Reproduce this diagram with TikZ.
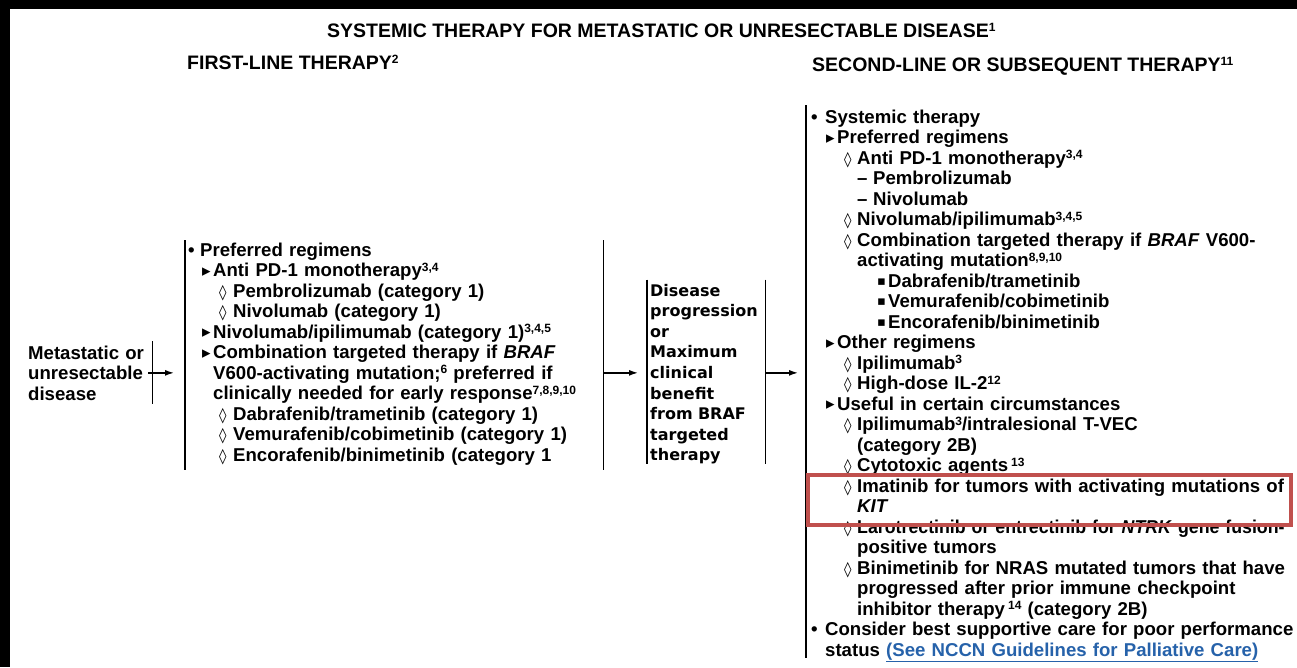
\documentclass[tikz,border=0pt]{standalone}
\usepackage{fontspec}
\usepackage{graphicx}
\setmainfont{Liberation Sans}
\newfontfamily\symf{DejaVu Sans}
\usetikzlibrary{arrows.meta}
\definecolor{linkblue}{RGB}{38,98,170}
\definecolor{markred}{RGB}{192,80,77}

% superscript note numbers and list markers
\newcommand{\sups}[1]{\smash{\raisebox{5.5pt}{\fontsize{12}{12}\selectfont #1}}}
\newcommand{\itm}[3]{\hspace*{#1}\makebox[#2][l]{#3}}
\newcommand{\mktri}{\raisebox{0.5pt}{\symf\fontsize{17}{17}\selectfont ▸}}
\newcommand{\mkdia}{{\symf\fontsize{15}{15}\selectfont ◊}}
\newcommand{\mksq}{\raisebox{2pt}{\symf\fontsize{13}{13}\selectfont ▪}}
% first-line levels
\newcommand{\fA}{\itm{0pt}{12pt}{•}}
\newcommand{\fB}{\itm{14pt}{11pt}{\mktri}}
\newcommand{\fBc}{\hspace*{25pt}}
\newcommand{\fC}{\itm{31pt}{14pt}{\mkdia}}
% second-line levels
\newcommand{\sA}{\itm{0pt}{14pt}{•}}
\newcommand{\sAc}{\hspace*{14pt}}
\newcommand{\sB}{\itm{15pt}{11pt}{\mktri}}
\newcommand{\sC}{\itm{33pt}{13pt}{\mkdia}}
\newcommand{\sCc}{\hspace*{46pt}}
\newcommand{\sD}{\itm{46pt}{16pt}{–}}
\newcommand{\sE}{\itm{66pt}{11pt}{\mksq}}

\begin{document}
\begin{tikzpicture}[x=1pt, y=-1pt, >={Latex[length=9pt,width=6pt]},
  hd/.style={anchor=base west, inner sep=0pt, font=\fontsize{19.5}{22}\selectfont\bfseries},
  box/.style={anchor=base west, inner xsep=3pt, inner ysep=0pt, text width=#1, align=left, font=\fontsize{18.6}{20.5}\selectfont\bfseries},
  bar/.style={line width=1.6pt},
  link/.style={->, line width=1.4pt}]
\fill[black] (0,0) rectangle (1297,667);
\fill[white] (10,9) rectangle (1297,667);
\useasboundingbox (0,0) rectangle (1297,667);

% headings
\node[hd] (title) at (327,37) {SYSTEMIC THERAPY FOR METASTATIC OR UNRESECTABLE DISEASE\sups{1}};
\node[hd] (head1) at (187,69) {FIRST-LINE THERAPY\sups{2}};
\node[hd] (head2) at (812,71) {SECOND-LINE OR SUBSEQUENT THERAPY\sups{11}};

% boxes
\node[box=121pt] (start) at (25,359) {Metastatic or\\ unresectable\\ disease};
\node[box=412pt] (first) at (185,256) {%
\fA Preferred regimens\\
\fB Anti PD-1 monotherapy\sups{3,4}\\
\fC Pembrolizumab (category 1)\\
\fC Nivolumab (category 1)\\
\fB Nivolumab/ipilimumab (category 1)\sups{3,4,5}\\
\fB Combination targeted therapy if \textit{BRAF}\\
\fBc V600-activating mutation;\sups{6} preferred if\\
\fBc clinically needed for early response\sups{7,8,9,10}\\
\fC Dabrafenib/trametinib (category 1)\\
\fC Vemurafenib/cobimetinib (category 1)\\
\fC Encorafenib/binimetinib (category 1};
\node[box=112pt, font=\symf\fontsize{16}{20.6}\selectfont\bfseries] (prog) at (647,296)
  {Disease\\ progression\\ or\\ Maximum\\ clinical\\ benefit\\ from BRAF\\ targeted\\ therapy};
\node[box=600pt, inner xsep=5pt] (second) at (806,123) {%
\sA Systemic therapy\\
\sB Preferred regimens\\
\sC Anti PD-1 monotherapy\sups{3,4}\\
\sD Pembrolizumab\\
\sD Nivolumab\\
\sC Nivolumab/ipilimumab\sups{3,4,5}\\
\sC Combination targeted therapy if \textit{BRAF} V600-\\
\sCc activating mutation\sups{8,9,10}\\
\sE Dabrafenib/trametinib\\
\sE Vemurafenib/cobimetinib\\
\sE Encorafenib/binimetinib\\
\sB Other regimens\\
\sC Ipilimumab\sups{3}\\
\sC High-dose IL-2\sups{12}\\
\sB Useful in certain circumstances\\
\sC Ipilimumab\sups{3}/intralesional T-VEC\\
\sCc (category 2B)\\
\sC Cytotoxic agents\,\sups{13}\\
\sC Imatinib for tumors with activating mutations of\\
\sCc \textit{KIT}\\
\sC \scalebox{0.955}[1]{Larotrectinib or entrectinib for \textit{NTRK} gene fusion-}\\
\sCc positive tumors\\
\sC Binimetinib for NRAS mutated tumors that have\\
\sCc progressed after prior immune checkpoint\\
\sCc inhibitor therapy\,\sups{14} (category 2B)\\
\sA Consider best supportive care for poor performance\\
\sAc status \textcolor{linkblue}{\underline{(See NCCN Guidelines for Palliative Care)}}};

% bars
\draw[bar] ([yshift=4pt]start.north east) -- ([yshift=-4pt]start.south east);
\draw[bar] ([yshift=2pt]first.north west) -- ([yshift=-5pt]first.south west);
\draw[bar] ([yshift=2pt]first.north east) -- ([yshift=-5pt]first.south east);
\draw[bar] ([yshift=4pt]prog.north west) -- (prog.south west);
\draw[bar] ([yshift=4pt]prog.north east) -- (prog.south east);
\draw[bar] ([yshift=4pt]second.north west) -- ([yshift=4pt]second.south west);

% connectors
\draw[link, shorten <=-4pt, shorten >=11pt] (start.east) -- (start.east -| first.west);
\draw[link, shorten <=1pt, shorten >=9pt] (start.east -| first.east) -- (start.east -| prog.west);
\draw[link, shorten <=1pt, shorten >=8pt] (start.east -| prog.east) -- (start.east -| second.west);

% highlight
\draw[markred, line width=3.5pt] (808,475) rectangle (1291,525);
\end{tikzpicture}
\end{document}
